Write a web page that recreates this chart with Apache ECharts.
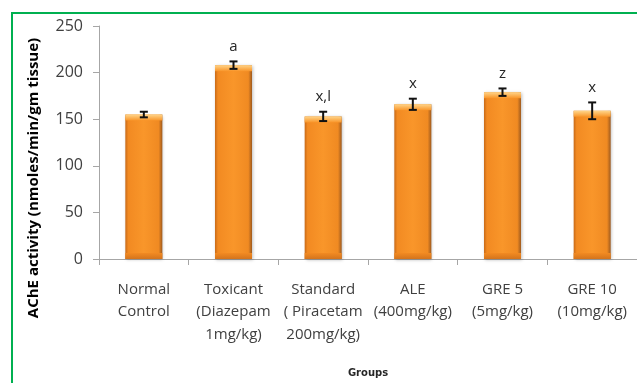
<!DOCTYPE html>
<html><head><meta charset="utf-8">
<script src="https://cdn.jsdelivr.net/npm/echarts@6/dist/echarts.min.js"></script>
<style>html,body{margin:0;padding:0;background:#fff}#c{width:637px;height:383px}</style>
</head><body><div id="c"></div>
<script>
const categories = ['Normal\nControl', 'Toxicant\n(Diazepam\n1mg/kg)', 'Standard\n( Piracetam\n200mg/kg)', 'ALE\n(400mg/kg)', 'GRE 5\n(5mg/kg)', 'GRE 10\n(10mg/kg)'];
const values = [155, 208, 153, 166, 179, 159];
const errors = [3, 4, 5, 6, 4, 9];
const letters = ['', 'a', 'x,l', 'x', 'z', 'x'];
const yTicks = [0, 50, 100, 150, 200, 250];

const chart = echarts.init(document.getElementById('c'), null, {renderer: 'canvas'});
const barW = 37;
chart.setOption({
  animation: false,
  backgroundColor: '#fff',
  grid: {left: 99, top: 26, bottom: 123, right: -6, containLabel: false},
  xAxis: {
    type: 'category', data: categories,
    name: 'Groups', nameLocation: 'middle', nameGap: 109,
    nameTextStyle: {fontFamily: 'DejaVu Sans', fontWeight: 'bold', fontSize: 10, color: '#262626'},
    axisLine: {lineStyle: {color: '#A6A6A6', width: 1}},
    axisTick: {show: true, length: 6, lineStyle: {color: '#A6A6A6'}},
    axisLabel: {interval: 0, margin: 19, fontFamily: 'Open Sans', fontSize: 15, lineHeight: 22.5, color: '#404040'}
  },
  yAxis: {
    type: 'value', min: 0, max: 250, interval: 50,
    axisLine: {show: true, lineStyle: {color: '#A6A6A6', width: 1}},
    axisTick: {show: true, length: 6, lineStyle: {color: '#A6A6A6'}},
    splitLine: {show: false},
    axisLabel: {margin: 16, fontFamily: 'Open Sans', fontSize: 16, color: '#404040',
      formatter: v => yTicks.includes(v) ? String(v) : ''}
  },
  graphic: [
    {type: 'rect', shape: {x: 12, y: 13, width: 700, height: 420}, style: {fill: 'none', stroke: '#00B050', lineWidth: 2}, z: 100},
    {type: 'text', x: 34, y: 178, rotation: Math.PI / 2,
      style: {text: 'AChE activity (nmoles/min/gm tissue)', fontFamily: 'Open Sans', fontWeight: 'bold', fontSize: 15, fill: '#000', textAlign: 'center', textVerticalAlign: 'middle'}}
  ],
  series: [
    {
      type: 'bar', data: values, barWidth: barW,
      itemStyle: {
        color: new echarts.graphic.LinearGradient(0, 0, 1, 0, [
          {offset: 0, color: '#C86A18'}, {offset: 0.08, color: '#F28A22'},
          {offset: 0.5, color: '#F9962A'}, {offset: 0.9, color: '#F08A22'}, {offset: 1, color: '#9E5A1E'}
        ]),
        shadowColor: 'rgba(0,0,0,0.25)', shadowBlur: 3, shadowOffsetX: 1, shadowOffsetY: 1
      }
    },
    {
      type: 'custom', data: values.map((v, i) => [i, v, errors[i], letters[i]]),
      z: 5,
      renderItem: (params, api) => {
        const i = api.value(0), v = api.value(1), e = api.value(2);
        const top = api.coord([i, v]);
        const hi = api.coord([i, v + e]);
        const lo = api.coord([i, v - e]);
        const base = api.coord([i, 0]);
        const x = top[0], half = barW / 2, cap = 4;
        const s = {stroke: '#111', lineWidth: 2};
        return {type: 'group', children: [
          {type: 'rect', shape: {x: x - half, y: top[1], width: barW, height: 6},
            style: {fill: new echarts.graphic.LinearGradient(0, 0, 0, 1, [{offset: 0, color: '#FFD58A'}, {offset: 1, color: '#F9962A'}])}},
          {type: 'rect', shape: {x: x - half, y: base[1] - 6, width: barW, height: 6},
            style: {fill: new echarts.graphic.LinearGradient(0, 0, 0, 1, [{offset: 0, color: '#F28A22'}, {offset: 1, color: '#D4741C'}])}},
          {type: 'line', shape: {x1: x, y1: hi[1], x2: x, y2: lo[1]}, style: s},
          {type: 'line', shape: {x1: x - cap, y1: hi[1], x2: x + cap, y2: hi[1]}, style: s},
          {type: 'line', shape: {x1: x - cap, y1: lo[1], x2: x + cap, y2: lo[1]}, style: s},
          {type: 'text', x: x, y: hi[1] - 15, style: {text: letters[i], fontFamily: 'Open Sans', fontSize: 15, fill: '#262626', textAlign: 'center', textVerticalAlign: 'middle'}}
        ]};
      }
    }
  ]
});
</script></body></html>
